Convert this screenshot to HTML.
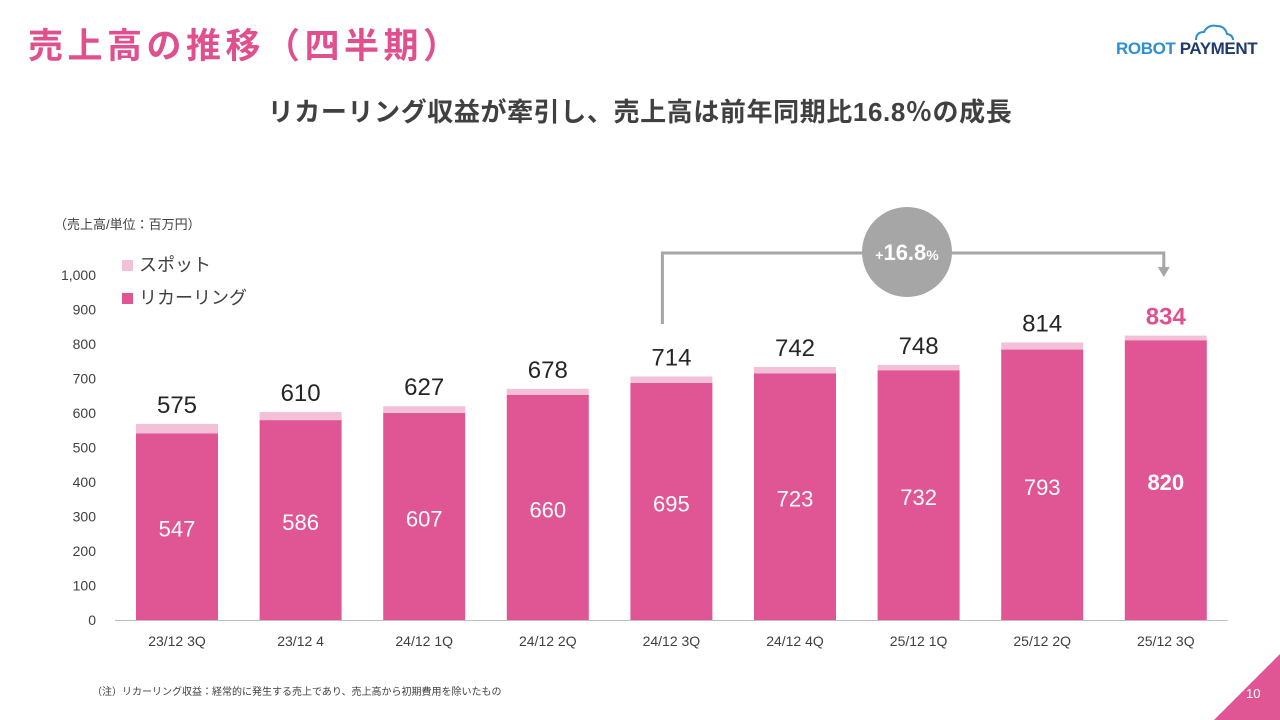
<!DOCTYPE html>
<html><head><meta charset="utf-8"><style>
body{margin:0;width:1280px;height:720px;background:#fff;overflow:hidden;font-family:"Liberation Sans","Noto Sans CJK JP",sans-serif;position:relative}
.abs{position:absolute}
</style></head><body>
<div class="abs" style="left:28px;top:18px;font-size:35px;font-weight:bold;color:#E0508F;letter-spacing:4.5px">売上高の推移（四半期）</div>
<div class="abs" style="left:1116px;top:20px;width:140px;height:42px">
<svg width="140" height="42"><path d="M80 20 q0-8 8-8 q4-8 13-6 q8 0 10 8 q6 1 6 6" fill="none" stroke="#2E8FD0" stroke-width="2"/></svg>
<div class="abs" style="left:0;top:19px;font-size:17px;font-weight:bold;white-space:nowrap;letter-spacing:-0.4px"><span style="color:#2E8FD0">ROBOT</span> <span style="color:#1E3A6E">PAYMENT</span></div>
</div>
<div class="abs" style="left:0;width:1280px;top:92px;text-align:center;font-size:26px;font-weight:bold;color:#404040;letter-spacing:0.6px">リカーリング収益が牽引し、売上高は前年同期比16.8％の成長</div>
<div class="abs" style="left:54px;top:214px;font-size:13px;color:#404040">（売上高/単位：百万円）</div>
<div class="abs" style="left:122px;top:251px;font-size:18px;color:#404040"><span style="display:inline-block;width:11px;height:11px;background:#F2C1D8;margin-right:6px"></span>スポット</div>
<div class="abs" style="left:122px;top:284px;font-size:18px;color:#404040"><span style="display:inline-block;width:11px;height:11px;background:#E05695;margin-right:6px"></span>リカーリング</div>
<svg class="abs" style="left:0;top:0" width="1280" height="720" id="chart"></svg>
<div class="abs" style="left:92px;top:683px;font-size:10px;color:#404040">（注）リカーリング収益：経常的に発生する売上であり、売上高から初期費用を除いたもの</div>
<svg class="abs" style="left:1214px;top:654px" width="66" height="66"><polygon points="66,0 66,66 0,66" fill="#E05695"/></svg>
<div class="abs" style="left:1246px;top:686px;font-size:13px;color:#fff">10</div>
<script>
const categories=["23/12 3Q","23/12 4","24/12 1Q","24/12 2Q","24/12 3Q","24/12 4Q","25/12 1Q","25/12 2Q","25/12 3Q"];
const recurring=[547,586,607,660,695,723,732,793,820];
const totals=[575,610,627,678,714,742,748,814,834];
const yTicks=[0,100,200,300,400,500,600,700,800,900,1000];
const NS="http://www.w3.org/2000/svg";
const svg=document.getElementById('chart');
const y=v=>620-v*0.341;
const x=i=>177+i*123.6;
const bw=82;
function mk(t,a,txt){const e=document.createElementNS(NS,t);for(const k in a)e.setAttribute(k,a[k]);if(txt!==undefined)e.textContent=txt;svg.appendChild(e);return e;}
yTicks.forEach(v=>{const t=mk('text',{x:96,y:620-v*0.345+5,'text-anchor':'end','font-size':14,fill:'#404040'},v.toLocaleString('en-US'));

});
const ax=mk('line',{x1:115,x2:1228,y1:620.5,y2:620.5,stroke:'#BFBFBF','stroke-width':1});


categories.forEach((c,i)=>{
const cx=x(i),last=i===categories.length-1;
const s=mk('rect',{x:cx-bw/2,y:y(totals[i]),width:bw,height:y(recurring[i])-y(totals[i]),fill:'#F2C1D8'});


const r=mk('rect',{x:cx-bw/2,y:y(recurring[i]),width:bw,height:620-y(recurring[i]),fill:'#E05695'});


const l=mk('text',{x:cx,y:(y(recurring[i])+620)/2+10,'text-anchor':'middle','font-size':22,fill:'#fff','font-weight':last?'bold':'normal'},recurring[i]);


const tl=mk('text',{x:cx,y:y(totals[i])-11,'text-anchor':'middle','font-size':24,fill:last?'#E0508F':'#262626','font-weight':last?'bold':'normal'},totals[i]);


const xl=mk('text',{x:cx,y:646,'text-anchor':'middle','font-size':14,fill:'#404040'},c);


});
const br=mk('polyline',{points:`${x(4)-9},324 ${x(4)-9},253 ${x(8)-2},253 ${x(8)-2},268`,fill:'none',stroke:'#A6A6A6','stroke-width':3});


const ar=mk('polygon',{points:`${x(8)-8},267 ${x(8)+4},267 ${x(8)-2},277`,fill:'#A6A6A6'});


const ci=mk('circle',{cx:907,cy:252,r:45,fill:'#A6A6A6'});


const gt=mk('text',{x:907,y:260,'text-anchor':'middle','font-size':22,'font-weight':'bold',fill:'#fff'});


gt.innerHTML='<tspan font-size="14">+</tspan>16.8<tspan font-size="14">%</tspan>';
</script>
</body></html>
